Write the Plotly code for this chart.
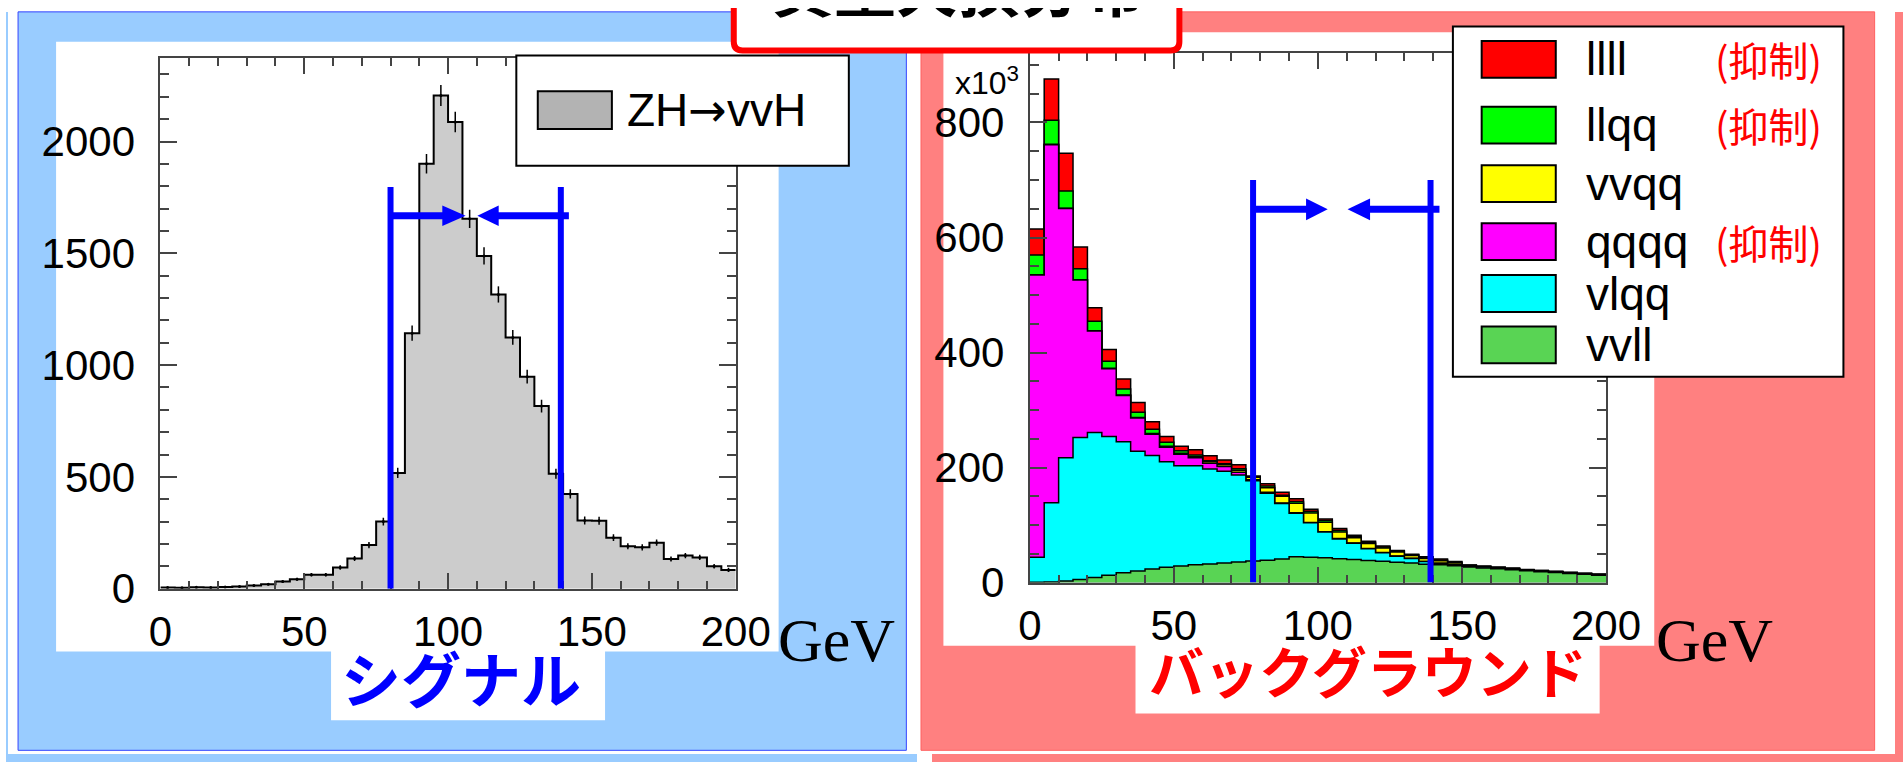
import numpy as np
import plotly.graph_objects as go

W, H = 1903, 762          # page / window size
OX, OY = 8, 8             # default body margin of the html page
FW, FH = W - 2 * OX, H - 2 * OY

# ---------------- data ----------------
bin_edges = list(range(0, 205, 5))  # 0..200 GeV, 5 GeV bins

signal_zh_vvh = [5, 4, 6, 5, 8, 10, 14, 20, 32, 42,
                 62, 62, 95, 135, 195, 300, 518, 1143, 1900, 2206,
                 2087, 1654, 1488, 1316, 1124, 948, 817, 514, 424, 305,
                 304, 228, 190, 185, 206, 133, 148, 140, 100, 84]

# background components (x10^3 events per bin)
bkg_vvll = [0.5, 1, 3, 5.5, 9, 13, 17, 20, 23.5, 26.5,
            29, 31, 32.5, 34, 36, 37.5, 39, 41, 45, 44,
            43, 41.5, 40, 38.5, 37, 35.5, 34, 32, 31, 29.5,
            27, 25.5, 24, 22.5, 20.5, 19, 17.5, 16, 14.5, 13]
bkg_vlqq = [43.5, 138, 214, 247, 252, 241, 228, 208.5, 197.5, 183.5,
            174, 172, 165, 159.5, 151, 139.5, 116.5, 96.5, 75.5, 60,
            45, 34.5, 28.5, 20.5, 15, 10.5, 8, 4.5, 2.5, 1.5,
            1.5, 1.5, 1.2, 1.2, 1.0, 1.0, 1.0, 0.8, 0.8, 0.8]
bkg_qqqq = [491, 622.5, 433.5, 273.5, 176.5, 118, 80.5, 57.5, 37, 25.5,
            20, 14, 10, 8.5, 5, 2, 1.5, 1, 1, 0.5,
            0.5, 0.5, 0.5, 0.5, 0.5, 0.3, 0.3, 0.3, 0.3, 0.2,
            0.2, 0.2, 0.2, 0.2, 0.2, 0.2, 0.2, 0.2, 0.2, 0.2]
bkg_vvqq = [0.3, 0.5, 0.5, 0.5, 0.6, 0.7, 0.8, 1.0, 1.2, 1.5,
            1.8, 2.0, 2.5, 3.0, 3.5, 4, 8, 11.5, 16.5, 16.5,
            16.5, 11.5, 9, 8.5, 7.5, 6.7, 4.7, 5.2, 4.2, 2.8,
            1.0, 0.8, 0.7, 0.6, 0.5, 0.5, 0.4, 0.4, 0.3, 0.3]
bkg_llqq = [34.5, 42, 30, 19, 16.5, 12, 10.5, 9, 7.5, 7,
            4.5, 3, 2, 1.5, 2.5, 1.0, 3, 2, 3, 3,
            3, 3, 2.5, 2, 2, 1.5, 1.5, 1.5, 1.5, 1.5,
            0.5, 0.4, 0.4, 0.3, 0.3, 0.3, 0.2, 0.2, 0.2, 0.2]
bkg_llll = [45, 71.5, 65.5, 38, 23.5, 20.5, 17, 17, 13, 10,
            8, 9, 8.5, 6.5, 7, 1.5, 4, 5, 5, 3.5,
            2.5, 3, 2, 2, 1.5, 1.5, 1, 1.5, 1.5, 1,
            0.3, 0.2, 0.2, 0.2, 0.2, 0.2, 0.2, 0.1, 0.1, 0.1]

x_tick_vals = [0, 50, 100, 150, 200]
x_tick_text = ["0", "50", "100", "150", "200"]
sig_y_tick_vals = [0, 500, 1000, 1500, 2000]
sig_y_tick_text = ["0", "500", "1000", "1500", "2000"]
bkg_y_tick_vals = [0, 200, 400, 600, 800]
bkg_y_tick_text = ["0", "200", "400", "600", "800"]

sig_cuts = [80, 139.2]
bkg_cuts = [77.5, 139.1]

# legend order (top -> bottom); stack order is the reverse
bkg_names = ["llll", "llqq", "vvqq", "qqqq", "vlqq", "vvll"]
bkg_values = {"llll": bkg_llll, "llqq": bkg_llqq, "vvqq": bkg_vvqq,
              "qqqq": bkg_qqqq, "vlqq": bkg_vlqq, "vvll": bkg_vvll}
bkg_colors = {"llll": "#FF0000", "llqq": "#00FF00", "vvqq": "#FFFF00",
              "qqqq": "#FF00FF", "vlqq": "#00FFFF", "vvll": "#59D454"}
suppressed = ["llll", "llqq", "qqqq"]

# ---------------- helpers (page pixel -> paper fraction) ----------------
def px(x):
    return (x - OX) / FW

def py(y):
    return 1 - (y - OY) / FH

def step_y(vals):
    return list(vals) + [vals[-1]]

TICKFONT = dict(family="Liberation Sans, Arial, sans-serif", size=42, color="black")
AXCOL = "#444444"

fig = go.Figure()

# signal histogram
fig.add_trace(go.Scatter(
    x=bin_edges, y=step_y(signal_zh_vvh), mode="lines", line_shape="hv",
    line=dict(color="black", width=2), fill="tozeroy", fillcolor="#CCCCCC",
    xaxis="x", yaxis="y", showlegend=False, hoverinfo="skip"))
centers = [e + 2.5 for e in bin_edges[:-1]]
fig.add_trace(go.Scatter(
    x=centers, y=signal_zh_vvh, mode="markers",
    marker=dict(size=3, color="black"),
    error_y=dict(type="data", array=np.sqrt(signal_zh_vvh), width=0,
                 thickness=1.5, color="black"),
    xaxis="x", yaxis="y", showlegend=False, hoverinfo="skip"))

# background stack: bottom -> top = reversed legend order
stack_order = bkg_names[::-1]
cum = np.cumsum(np.array([bkg_values[n] for n in stack_order]), axis=0)
for i in range(len(stack_order) - 1, -1, -1):
    name = stack_order[i]
    fig.add_trace(go.Scatter(
        x=bin_edges, y=step_y(cum[i]), mode="lines", line_shape="hv",
        line=dict(color="black", width=1.5), fill="tozeroy",
        fillcolor=bkg_colors[name], name=name,
        xaxis="x2", yaxis="y2", showlegend=False, hoverinfo="skip"))

# ---------------- axes ----------------
def axis_common(**kw):
    d = dict(ticks="inside", tickwidth=2, tickcolor=AXCOL, showline=True,
             linewidth=2, linecolor=AXCOL, mirror="ticks", showgrid=False,
             zeroline=False, tickfont=TICKFONT, fixedrange=True)
    d.update(kw)
    return d

fig.update_layout(
    width=FW, height=FH, autosize=False,
    margin=dict(l=0, r=0, t=0, b=0),
    paper_bgcolor="white", plot_bgcolor="rgba(0,0,0,0)",
    xaxis=axis_common(domain=[px(152), px(742)], range=[0, 200], anchor="y",
                      tickvals=x_tick_vals, ticktext=x_tick_text, ticklen=16,
                      minor=dict(ticks="inside", dtick=10, ticklen=8,
                                 tickwidth=2, tickcolor=AXCOL),
                      ticklabelstandoff=5),
    yaxis=axis_common(domain=[py(608), py(60)], range=[0, 2372], anchor="x",
                      tickvals=sig_y_tick_vals, ticktext=sig_y_tick_text, ticklen=17,
                      minor=dict(ticks="inside", dtick=100, ticklen=9,
                                 tickwidth=2, tickcolor=AXCOL),
                      ticklabelstandoff=15),
    xaxis2=axis_common(domain=[px(1043.6), px(1634.5)], range=[0, 200], anchor="y2",
                       tickvals=x_tick_vals, ticktext=x_tick_text, ticklen=16,
                       minor=dict(ticks="inside", dtick=10, ticklen=8,
                                  tickwidth=2, tickcolor=AXCOL),
                       ticklabelstandoff=5),
    yaxis2=axis_common(domain=[py(601.7), py(55)], range=[0, 920], anchor="x2",
                       tickvals=bkg_y_tick_vals, ticktext=bkg_y_tick_text, ticklen=17,
                       minor=dict(ticks="inside", dtick=50, ticklen=9,
                                  tickwidth=2, tickcolor=AXCOL),
                       ticklabelstandoff=15),
)

# ---------------- decorations ----------------
shapes = []

def prect(x0, y0, x1, y1, fill, line_color=None, lw=0, layer="below"):
    shapes.append(dict(type="rect", xref="paper", yref="paper",
                       x0=px(x0), x1=px(x1), y0=py(y1), y1=py(y0),
                       fillcolor=fill, layer=layer,
                       line=dict(color=line_color or fill, width=lw)))

# panels
prect(6, 12, 917, 775, "#99CCFF", "#3344FF", 1)
prect(932, 12, 1910, 775, "#FF8080", "#FF6060", 1)
prect(45, 43, 786, 673, "white")
prect(327, 672, 608, 744, "white")
prect(955, 33, 1684, 667, "white")
prect(1152, 666, 1628, 737, "white")

# title box with rounded lower corners
r = 9
tb = [(740, -20), (740, 52 - r), (740, 52), (740 + r, 52), (1197 - r, 52),
      (1197, 52), (1197, 52 - r), (1197, -20)]
tpath = (f"M {px(tb[0][0])},{py(tb[0][1])} L {px(tb[1][0])},{py(tb[1][1])} "
         f"Q {px(tb[2][0])},{py(tb[2][1])} {px(tb[3][0])},{py(tb[3][1])} "
         f"L {px(tb[4][0])},{py(tb[4][1])} "
         f"Q {px(tb[5][0])},{py(tb[5][1])} {px(tb[6][0])},{py(tb[6][1])} "
         f"L {px(tb[7][0])},{py(tb[7][1])} Z")
shapes.append(dict(type="path", xref="paper", yref="paper", path=tpath,
                   fillcolor="white", layer="above",
                   line=dict(color="#FF0000", width=6)))
# signal legend
prect(517, 57, 858, 171, "white", "black", 2, layer="above")
prect(539, 94, 615, 133, "#B3B3B3", "black", 2, layer="above")
# background legend
prect(1477.5, 27, 1878, 389, "white", "black", 2, layer="above")
row_centers = [61, 129, 189.5, 249.5, 303, 356]
for name, yc in zip(bkg_names, row_centers):
    prect(1507, yc - 19, 1583, yc + 19, bkg_colors[name], "black", 2, layer="above")

# cut lines and arrows (data coordinates of each panel)
def cut_marks(xr, yr, cuts, line_top, arrow_y, left_base, left_tip,
              right_start, right_base, right_tip, head_h):
    for c in cuts:
        shapes.append(dict(type="line", xref=xr, yref=yr, x0=c, x1=c,
                           y0=0, y1=line_top, layer="above",
                           line=dict(color="#0000FF", width=6)))
    shapes.append(dict(type="line", xref=xr, yref=yr, x0=cuts[0], x1=left_base + 0.5,
                       y0=arrow_y, y1=arrow_y, layer="above",
                       line=dict(color="#0000FF", width=7)))
    shapes.append(dict(type="path", xref=xr, yref=yr, layer="above",
                       path=f"M {left_base},{arrow_y - head_h} L {left_tip},{arrow_y} "
                            f"L {left_base},{arrow_y + head_h} Z",
                       fillcolor="#0000FF", line=dict(color="#0000FF", width=0)))
    shapes.append(dict(type="line", xref=xr, yref=yr, x0=right_base - 0.5, x1=right_start,
                       y0=arrow_y, y1=arrow_y, layer="above",
                       line=dict(color="#0000FF", width=7)))
    shapes.append(dict(type="path", xref=xr, yref=yr, layer="above",
                       path=f"M {right_base},{arrow_y - head_h} L {right_tip},{arrow_y} "
                            f"L {right_base},{arrow_y + head_h} Z",
                       fillcolor="#0000FF", line=dict(color="#0000FF", width=0)))

cut_marks("x", "y", sig_cuts, 1797, 1668, 98, 106.1, 142, 117.6, 110.2, 46)
cut_marks("x2", "y2", bkg_cuts, 700, 649, 95.9, 103.4, 142.2, 118.1, 110.3, 19)

fig.update_layout(shapes=shapes)

# ---------------- text ----------------
ann = []
def text(x, y, s, size, color="black", family="Liberation Sans, Arial, sans-serif",
         xanchor="center", yanchor="middle"):
    ann.append(dict(xref="paper", yref="paper", x=px(x), y=py(y), text=s,
                    showarrow=False, xanchor=xanchor, yanchor=yanchor,
                    font=dict(size=size, color=color, family=family)))

CJK = "Noto Sans CJK JP, sans-serif"
SERIF = "Liberation Serif, Times New Roman, serif"
text(970, -16, "<b>質量欠損分布</b>", 62, family=CJK)
text(845, 661, "GeV", 62, family=SERIF)
text(1746, 661, "GeV", 62, family=SERIF)
text(460, 699, "<b>シグナル</b>", 60, color="#0000FF", family=CJK)
text(1390, 691, "<b>バックグラウンド</b>", 55, color="#FF0000", family=CJK)
text(965, 83, "x10<sup>3</sup>", 32, xanchor="left")
text(628, 113, "ZH<span style=\"font-family:DejaVu Sans\">→</span>vvH", 46, xanchor="left")
for name, yc in zip(bkg_names, row_centers):
    text(1612, yc, name, 46, xanchor="left")
    if name in suppressed:
        text(1744, yc, "(抑制)", 40, color="#FF0000", family=CJK, xanchor="left")

fig.update_layout(annotations=ann)

# colour the page margin around the figure like the slide panels
post = ("document.documentElement.style.background="
        "'linear-gradient(#fff,#fff) 0 0/100% 12px no-repeat,"
        "linear-gradient(to right,#fff 0px,#fff 6px,#99CCFF 6px,#99CCFF 917px,"
        "#fff 917px,#fff 932px,#FF8080 932px,#FF8080 100%)';")

fig.write_html("out.html", config={"displayModeBar": False}, post_script=post)
